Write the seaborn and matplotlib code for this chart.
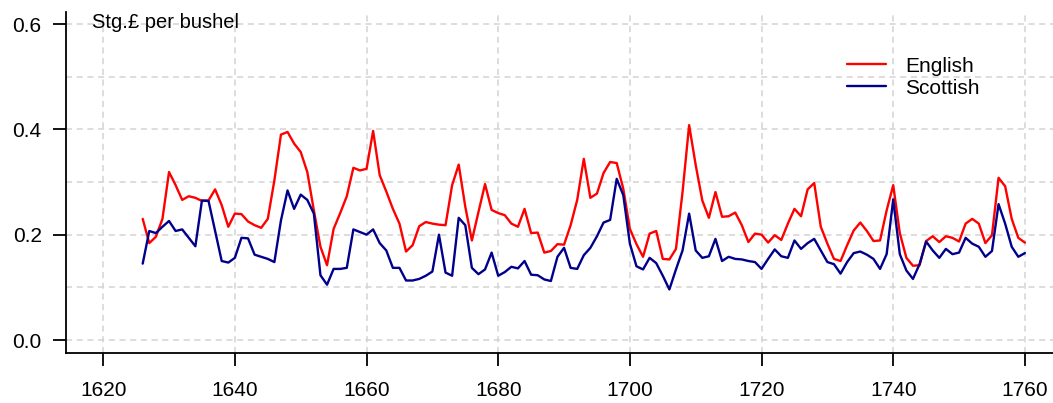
import numpy as np
import pandas as pd
import seaborn as sns
import matplotlib
matplotlib.use("Agg")
import matplotlib.pyplot as plt

# wheat prices, Stg.£ per bushel, 1626-1760
start_year = 1626
english = [
    0.230, 0.184, 0.196, 0.230, 0.319, 0.294, 0.266, 0.273, 0.270, 0.264,
    0.265, 0.286, 0.256, 0.215, 0.240, 0.239, 0.225, 0.218, 0.213, 0.230,
    0.303, 0.390, 0.395, 0.373, 0.357, 0.319, 0.246, 0.177, 0.142, 0.211,
    0.241, 0.273, 0.327, 0.322, 0.325, 0.397, 0.313, 0.282, 0.249, 0.221,
    0.168, 0.180, 0.216, 0.224, 0.221, 0.219, 0.218, 0.294, 0.333, 0.253,
    0.189, 0.243, 0.296, 0.247, 0.241, 0.237, 0.221, 0.215, 0.249, 0.203,
    0.204, 0.166, 0.169, 0.182, 0.181, 0.218, 0.266, 0.344, 0.270, 0.278,
    0.317, 0.338, 0.336, 0.287, 0.211, 0.182, 0.158, 0.202, 0.207, 0.154,
    0.153, 0.173, 0.281, 0.408, 0.332, 0.265, 0.232, 0.281, 0.234, 0.235,
    0.242, 0.218, 0.186, 0.202, 0.200, 0.185, 0.199, 0.190, 0.221, 0.249,
    0.235, 0.286, 0.298, 0.215, 0.183, 0.154, 0.150, 0.180, 0.208, 0.223,
    0.207, 0.188, 0.189, 0.246, 0.294, 0.203, 0.156, 0.141, 0.142, 0.188,
    0.197, 0.186, 0.197, 0.194, 0.187, 0.221, 0.230, 0.221, 0.184, 0.199,
    0.308, 0.292, 0.230, 0.194, 0.185,
]
scottish = [
    0.145, 0.207, 0.203, 0.215, 0.226, 0.207, 0.210, 0.194, 0.178, 0.265,
    0.264, 0.207, 0.150, 0.147, 0.156, 0.194, 0.193, 0.162, 0.158, 0.154,
    0.148, 0.227, 0.284, 0.249, 0.276, 0.266, 0.240, 0.123, 0.105, 0.135,
    0.135, 0.137, 0.210, 0.205, 0.200, 0.210, 0.184, 0.170, 0.137, 0.137,
    0.113, 0.113, 0.116, 0.122, 0.130, 0.200, 0.128, 0.122, 0.232, 0.218,
    0.137, 0.125, 0.134, 0.166, 0.122, 0.129, 0.139, 0.136, 0.150, 0.124,
    0.123, 0.115, 0.112, 0.158, 0.175, 0.137, 0.135, 0.161, 0.175, 0.197,
    0.223, 0.228, 0.306, 0.275, 0.183, 0.140, 0.134, 0.156, 0.146, 0.122,
    0.096, 0.134, 0.170, 0.240, 0.170, 0.156, 0.159, 0.192, 0.150, 0.158,
    0.154, 0.153, 0.150, 0.148, 0.135, 0.154, 0.172, 0.159, 0.156, 0.189,
    0.173, 0.184, 0.192, 0.170, 0.148, 0.144, 0.126, 0.148, 0.165, 0.168,
    0.162, 0.154, 0.135, 0.163, 0.267, 0.163, 0.132, 0.116, 0.144, 0.187,
    0.170, 0.156, 0.173, 0.163, 0.166, 0.194, 0.183, 0.177, 0.158, 0.169,
    0.258, 0.221, 0.177, 0.158, 0.165,
]
years = np.arange(start_year, start_year + len(english))
xticks = [1620, 1640, 1660, 1680, 1700, 1720, 1740, 1760]
yticks = [0.0, 0.2, 0.4, 0.6]

df = pd.DataFrame({
    "year": np.concatenate([years, years]),
    "price": english + scottish,
    "series": ["English"] * len(english) + ["Scottish"] * len(scottish),
})

sns.set_theme(style="ticks", rc={"text.color": "black", "xtick.color": "black",
                                 "ytick.color": "black", "axes.edgecolor": "black"})
plt.rcParams["font.family"] = ["Liberation Sans", "DejaVu Sans"]
plt.rcParams["font.size"] = 15

fig = plt.figure(figsize=(10.53, 4.03), dpi=100)
ax = fig.add_axes([66 / 1053, 50.3 / 403, 987 / 1053, 340.7 / 403])

sns.lineplot(data=df, x="year", y="price", hue="series",
             palette={"English": "#FF0000", "Scottish": "#00008B"},
             linewidth=1.7, ax=ax)

ax.set_xlim(1614.35, 1764.27)
ax.set_ylim(-0.0241, 0.6228)
ax.set_xticks(xticks)
ax.set_yticks(yticks)
ax.set_yticks(np.arange(0.1, 0.6, 0.2), minor=True)
ax.set_yticklabels([f"{v:.1f}" for v in yticks])
ax.tick_params(axis="both", which="major", direction="out", length=9.5, width=1.3,
               color="black", labelsize=15, labelcolor="black")
ax.tick_params(axis="y", which="major", pad=8)
ax.tick_params(axis="x", which="major", pad=11)
ax.tick_params(axis="y", which="minor", length=0)
ax.grid(True, which="both", color="#d3d3d3", linestyle=(0, (4, 3)), linewidth=1.1)
ax.set_axisbelow(True)
ax.set_xlabel("")
ax.set_ylabel("")
sns.despine(ax=ax)
for s in ["left", "bottom"]:
    ax.spines[s].set_linewidth(1.3)
    ax.spines[s].set_color("black")

ax.text(1618.3, 0.592, "Stg.£ per bushel", fontsize=14.5, va="baseline", ha="left",
        color="black")

leg = ax.legend(loc="center left", bbox_to_anchor=(0.791, 0.809), frameon=False,
                fontsize=15, handlelength=1.9, handletextpad=0.9, labelspacing=0.15,
                borderpad=0, borderaxespad=0)
for t in leg.get_texts():
    t.set_color("black")

fig.savefig("out.png", dpi=100)
